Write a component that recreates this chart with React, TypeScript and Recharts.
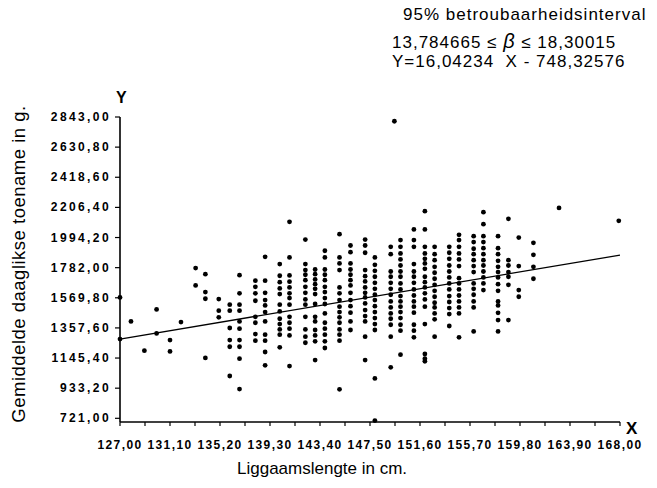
import React from 'react';
import { ScatterChart, Scatter, XAxis, YAxis } from 'recharts';

// body length columns (cm) and the daily gain readings (g) in each column
const lengths = [
  127.0, 127.9, 129.0, 130.0, 131.1, 132.0, 133.2, 134.0, 135.1, 136.0, 136.8, 138.1, 138.9,
  140.1, 140.9, 142.2, 143.0, 143.8, 145.0, 145.9, 147.1, 147.9, 149.2, 149.5, 150.0, 151.1,
  152.0, 152.8, 154.0, 154.8, 156.0, 156.8, 158.0, 158.85, 159.7, 160.9, 163.0, 167.9,
];

const gains: number[][] = [
  [1572, 1279],
  [1403],
  [1197],
  [1488, 1319],
  [1272, 1192],
  [1399],
  [1779, 1657],
  [1736, 1610, 1563, 1146],
  [1561, 1479, 1432],
  [1521, 1479, 1357, 1272, 1225, 1019],
  [1729, 1601, 1521, 1479, 1403, 1352, 1272, 1225, 1141, 927],
  [1690, 1647, 1601, 1549, 1436, 1394, 1314, 1268],
  [1858, 1690, 1605, 1554, 1516, 1469, 1403, 1310, 1268, 1188, 1094],
  [1807, 1725, 1680, 1636, 1596, 1521, 1474, 1422, 1385, 1347, 1310, 1221],
  [2105, 1854, 1727, 1683, 1643, 1601, 1568, 1521, 1436, 1394, 1352, 1305, 1089],
  [1980, 1807, 1765, 1732, 1694, 1647, 1605, 1558, 1521, 1436, 1347, 1296, 1253],
  [1769, 1736, 1699, 1666, 1633, 1596, 1526, 1436, 1403, 1343, 1305, 1263, 1131],
  [1901, 1854, 1769, 1732, 1694, 1647, 1610, 1568, 1526, 1460, 1394, 1352, 1310, 1263, 1216],
  [2018, 1854, 1812, 1765, 1643, 1601, 1554, 1507, 1469, 1432, 1394, 1347, 1310, 1268, 925],
  [1938, 1891, 1812, 1769, 1732, 1694, 1657, 1605, 1554, 1511, 1465, 1403, 1343],
  [1980, 1938, 1887, 1765, 1722, 1685, 1643, 1605, 1572, 1530, 1483, 1441, 1403, 1296, 1131],
  [1854, 1802, 1760, 1718, 1675, 1633, 1591, 1554, 1511, 1469, 1427, 1385, 1343, 1002, 705],
  [1929, 1877, 1755, 1718, 1675, 1633, 1591, 1544, 1502, 1460, 1422, 1380, 1296, 1080],
  [2813],
  [1976, 1929, 1882, 1840, 1797, 1755, 1718, 1671, 1629, 1582, 1544, 1507, 1469, 1427, 1380, 1338, 1169],
  [2051, 1976, 1929, 1807, 1755, 1718, 1675, 1629, 1586, 1544, 1507, 1465, 1380, 1338, 1291],
  [2180, 2051, 1929, 1882, 1844, 1812, 1774, 1718, 1680, 1643, 1601, 1558, 1507, 1385, 1174, 1141, 1122],
  [1929, 1877, 1835, 1788, 1746, 1704, 1661, 1619, 1577, 1535, 1502, 1460, 1418, 1296],
  [1929, 1887, 1844, 1797, 1755, 1713, 1671, 1629, 1582, 1540, 1497, 1455, 1371],
  [2013, 1976, 1929, 1882, 1840, 1793, 1708, 1671, 1629, 1586, 1544, 1502, 1460, 1291],
  [2004, 1962, 1915, 1877, 1835, 1793, 1751, 1671, 1633, 1591, 1544, 1502, 1333],
  [2173, 2088, 2004, 1962, 1919, 1877, 1835, 1797, 1755, 1713, 1671, 1624],
  [2004, 1919, 1877, 1830, 1788, 1751, 1713, 1666, 1619, 1544, 1516, 1464, 1413, 1333],
  [2126, 1835, 1797, 1751, 1718, 1661, 1413],
  [1994, 1793, 1624, 1577],
  [1957, 1872, 1788, 1704],
  [2203],
  [2112],
];

// fitted line as drawn in the figure
const fitX = [127, 168];
const fitY = [1279, 1870];

const xLabelTicks = [127, 131.1, 135.2, 139.3, 143.4, 147.5, 151.6, 155.7, 159.8, 163.9, 168];
const xMinorTicks = [129.05, 133.15, 137.25, 141.35, 145.45, 149.55, 153.65, 157.75, 161.85, 165.95];
const yTicks = [721, 933.2, 1145.4, 1357.6, 1569.8, 1782, 1994.2, 2206.4, 2418.6, 2630.8, 2843];

const points = lengths.flatMap((x, i) => gains[i].map((y) => ({ x, y })));
const fitData = fitX.map((x, i) => ({ x, y: fitY[i] }));
const allXTicks = [...xLabelTicks, ...xMinorTicks].sort((a, b) => a - b);

const FONT = '"Liberation Sans", Arial, Helvetica, sans-serif';
const fmt = (v: number) => v.toFixed(2).replace('.', ',');

function XTick(props: any) {
  const { x, y, payload } = props;
  if (!xLabelTicks.includes(payload.value)) return <g />;
  return (
    <text x={x} y={y} dy={21} textAnchor="middle" fontFamily={FONT} fontSize={12}
      fontWeight="bold" letterSpacing={1.4} fill="#000">
      {fmt(payload.value)}
    </text>
  );
}

function YTick(props: any) {
  const { x, y, payload } = props;
  return (
    <text x={x} y={y} dx={-2} dy={4} textAnchor="end" fontFamily={FONT} fontSize={12}
      fontWeight="bold" letterSpacing={2.4} fill="#000">
      {fmt(payload.value)}
    </text>
  );
}

const Dot = (props: any) => <circle cx={props.cx} cy={props.cy} r={2.4} fill="#000" />;

const txt: React.CSSProperties = {
  position: 'absolute',
  fontFamily: FONT,
  color: '#000',
  lineHeight: 1,
  whiteSpace: 'nowrap',
};

export default function App() {
  return (
    <div style={{ position: 'absolute', left: 0, top: 0, width: 657, height: 488, background: '#fff' }}>
      <ScatterChart width={657} height={488} margin={{ top: 117, right: 37, bottom: 26, left: 0 }}>
        <XAxis
          type="number"
          dataKey="x"
          domain={[127, 168]}
          ticks={allXTicks}
          interval={0}
          height={40}
          tick={<XTick />}
          tickSize={4}
          axisLine={{ stroke: '#000', strokeWidth: 1.6 }}
          tickLine={{ stroke: '#000', strokeWidth: 1.2 }}
        />
        <YAxis
          type="number"
          dataKey="y"
          domain={[695, 2843]}
          ticks={yTicks}
          interval={0}
          width={120}
          tick={<YTick />}
          tickSize={5}
          axisLine={{ stroke: '#000', strokeWidth: 1.6 }}
          tickLine={{ stroke: '#000', strokeWidth: 1.2 }}
        />
        <Scatter data={points} shape={<Dot />} isAnimationActive={false} />
        <Scatter
          data={fitData}
          line={{ stroke: '#000', strokeWidth: 1.3 }}
          shape={() => <g />}
          isAnimationActive={false}
        />
      </ScatterChart>

      <div style={{ ...txt, left: 403, top: 6, fontSize: 17, letterSpacing: 1 }}>
        95% betroubaarheidsinterval
      </div>
      <div style={{ ...txt, left: 392, top: 31, fontSize: 17, letterSpacing: 1 }}>
        13,784665 ≤ <span style={{ fontStyle: 'italic', fontSize: 20 }}>β</span> ≤ 18,30015
      </div>
      <div style={{ ...txt, left: 392, top: 53, fontSize: 17, letterSpacing: 1 }}>
        Y=16,04234&nbsp;&nbsp;X - 748,32576
      </div>

      <div style={{ ...txt, left: 116, top: 90, fontSize: 16, fontWeight: 'bold' }}>Y</div>
      <div style={{ ...txt, left: 626, top: 420, fontSize: 17, fontWeight: 'bold' }}>X</div>

      <div style={{ ...txt, left: 237, top: 460, fontSize: 17 }}>Liggaamslengte in cm.</div>
      <div
        style={{
          ...txt,
          left: 20 - 170,
          top: 264 - 10,
          width: 340,
          height: 20,
          textAlign: 'center',
          fontSize: 18.5,
          letterSpacing: 0.5,
          transform: 'rotate(-90deg)',
        }}
      >
        Gemiddelde daaglikse toename in g.
      </div>
    </div>
  );
}
